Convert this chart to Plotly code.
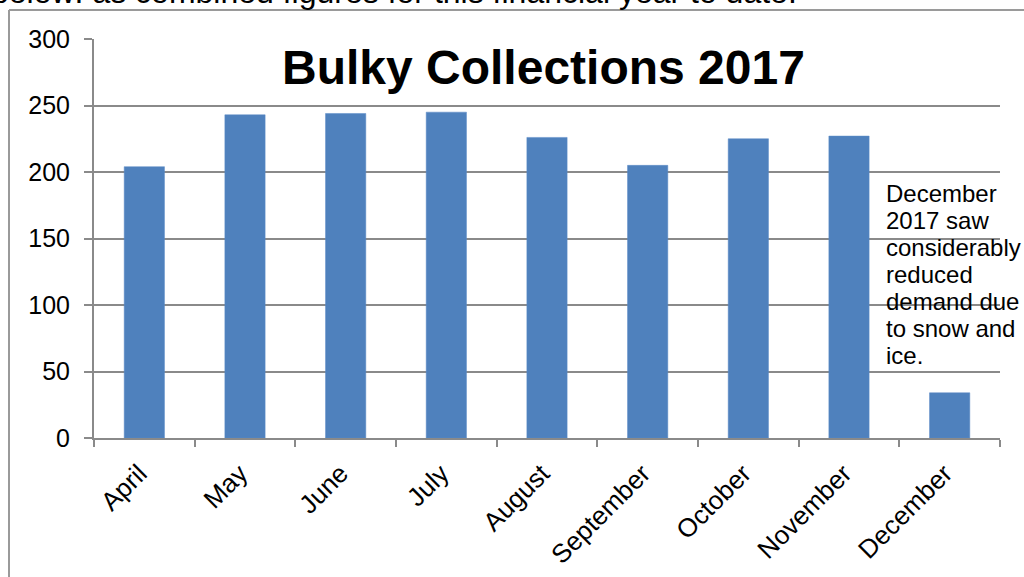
import plotly.graph_objects as go

months = ["April", "May", "June", "July", "August", "September", "October", "November", "December"]
collections = [204, 243, 244, 245, 226, 205, 225, 227, 34]
y_ticks = [0, 50, 100, 150, 200, 250, 300]
title_text = "Bulky Collections 2017"
note_lines = ["December", "2017 saw", "considerably", "reduced", "demand due", "to snow and", "ice."]
top_text = "below: as combined figures for this financial year to date."

W, H = 1024, 577
L, R, T, B = 94, 1000, 39, 438
FONT = "Liberation Sans, Arial, sans-serif"


def px(x):
    return (x - L) / (R - L)


def py(y):
    return (B - y) / (B - T)


fig = go.Figure(
    go.Bar(
        x=months,
        y=collections,
        marker=dict(color="#4F81BD", line=dict(color="#5A8AC6", width=0.5)),
        hoverinfo="x+y",
    )
)

annotations = [
    dict(
        text="<b>" + title_text + "</b>",
        xref="paper", yref="paper", x=px(543.5), y=py(67),
        xanchor="center", yanchor="middle", showarrow=False,
        font=dict(family=FONT, size=48, color="black"),
    ),
    dict(
        text=top_text,
        xref="paper", yref="paper", x=px(-11), y=py(-8),
        xanchor="left", yanchor="middle", showarrow=False,
        font=dict(family=FONT, size=32, color="black"),
    ),
]
for i, line in enumerate(note_lines):
    base = 200.7 + 27 * i
    annotations.append(
        dict(
            text=line,
            xref="paper", yref="paper", x=px(884), y=py(base - 7.5),
            xanchor="left", yanchor="middle", showarrow=False,
            font=dict(family=FONT, size=24, color="black"),
        )
    )

shapes = [
    dict(type="line", xref="paper", yref="paper",
         x0=px(9), x1=px(9), y0=py(10), y1=py(620),
         line=dict(color="#9a9a9a", width=2)),
    dict(type="line", xref="paper", yref="paper",
         x0=px(9), x1=px(1040), y0=py(10), y1=py(10),
         line=dict(color="#9a9a9a", width=2)),
]

fig.update_layout(
    width=W, height=H,
    margin=dict(l=L, r=W - R, t=T, b=H - B, pad=0, autoexpand=False),
    paper_bgcolor="white", plot_bgcolor="white",
    bargap=0.6,
    showlegend=False,
    font=dict(family=FONT, color="black"),
    annotations=annotations,
    shapes=shapes,
    xaxis=dict(
        type="category",
        automargin=False,
        showgrid=False,
        showline=True, linecolor="#8a8a8a", linewidth=2,
        ticks="outside", ticklen=7, tickcolor="#8a8a8a", tickwidth=2,
        tickson="boundaries",
        tickangle=-45,
        ticklabelshift=-5,
        ticklabelstandoff=8,
        tickfont=dict(family=FONT, size=26, color="black"),
    ),
    yaxis=dict(
        range=[0, 300],
        automargin=False,
        tickvals=y_ticks,
        showgrid=True, gridcolor="#8a8a8a", gridwidth=2,
        zeroline=False,
        showline=True, linecolor="#8a8a8a", linewidth=2,
        ticks="outside", ticklen=8, tickcolor="#8a8a8a", tickwidth=2,
        ticklabelstandoff=9,
        tickfont=dict(family=FONT, size=25, color="black"),
    ),
)

fig.write_html("out.html")
